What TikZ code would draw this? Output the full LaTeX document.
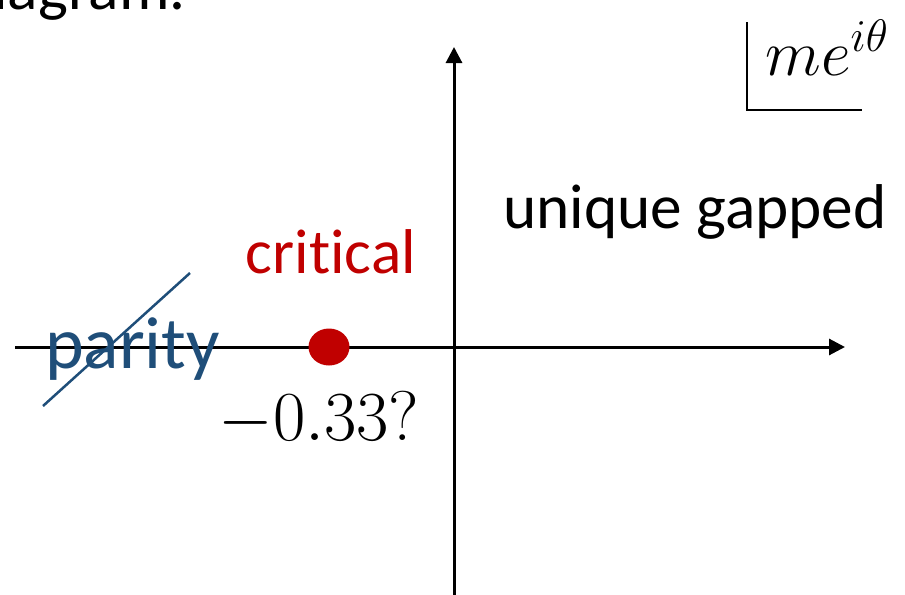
\RequirePackage{fix-cm}
\documentclass[tikz,border=0pt]{standalone}
\usepackage{tikz}
\usetikzlibrary{shapes.geometric,arrows.meta,positioning,calc}
\usepackage{xcolor}
\usepackage{amsmath}
\usepackage{fontspec}
\newfontfamily\calib{Carlito}[Ligatures={NoCommon,NoRare}]
\definecolor{CritRed}{HTML}{C00000}
\definecolor{ParityBlue}{HTML}{1F4E79}

\begin{document}
\begin{tikzpicture}[axis/.style={line width=0.06cm,-{Triangle[length=0.32cm,width=0.32cm]}},lbl/.style={inner sep=0pt,anchor=base}]
  \useasboundingbox (0,0) rectangle (18.1,11.88);
  \clip (0,0) rectangle (18.1,11.88);
  \node[lbl,anchor=base east,font=\calib\fontsize{36}{36}\selectfont] (title) at (3.72,11.68) {diagram.};
  \coordinate (xl) at (0.3,4.94);
  \coordinate (xr) at (16.9,4.94);
  \coordinate (yb) at (9.08,-0.2);
  \coordinate (yt) at (9.08,10.94);
  \draw[axis] (xl) -- (xr);
  \draw[axis] (yb) -- (yt);
  \node[ellipse,fill=CritRed,inner sep=0pt,minimum width=0.82cm,minimum height=0.74cm] (pt) at (6.58,4.94) {};
  \node[lbl,text=CritRed,font=\calib\fontsize{36}{36}\selectfont] (crit) at (6.62,6.42) {critical};
  \node[lbl,font=\fontsize{40}{40}\selectfont] (val) at (6.38,3.08) {$-0.33?$};
  \node[lbl,font=\calib\fontsize{36}{36}\selectfont] (gap) at (13.9,7.32) {unique gapped};
  \node[lbl,text=ParityBlue,font=\calib\fontsize{42}{42}\selectfont] (par) at (2.65,4.52) {parity};
  \coordinate (s1) at (0.86,3.76);
  \coordinate (s2) at (3.8,6.42);
  \draw[ParityBlue,line width=0.05cm] (s1) -- (s2);
  \coordinate (b1) at (14.94,11.44);
  \coordinate (b2) at (14.94,9.68);
  \coordinate (b3) at (17.24,9.68);
  \draw[line width=0.04cm] (b1) -- (b2) -- (b3);
  \node[lbl,anchor=base west,font=\fontsize{37}{37}\selectfont] (phase) at (15.3,10.38) {$me^{i\theta}$};
\end{tikzpicture}
\end{document}
